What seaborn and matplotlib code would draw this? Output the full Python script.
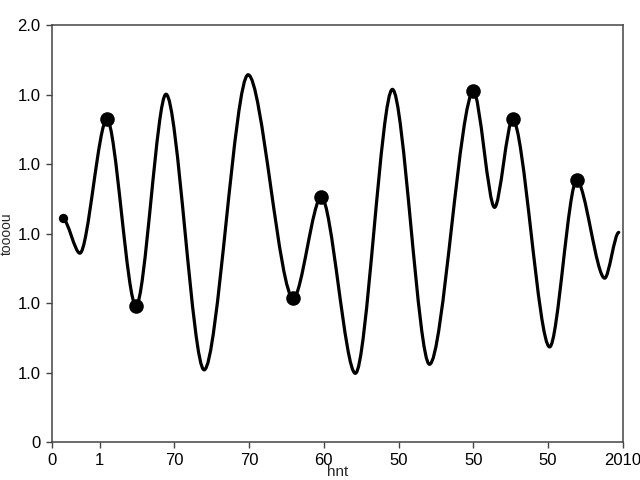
import matplotlib
matplotlib.use("Agg")
import matplotlib.pyplot as plt
from matplotlib.path import Path
from matplotlib.patches import PathPatch
import seaborn as sns
import pandas as pd

# Curve turning points (x in tick units, y in axis units)
curve_x = [0.147, 0.375, 0.737, 1.126, 1.528, 2.038, 2.627, 3.231, 3.606, 4.062,
           4.558, 5.054, 5.643, 5.925, 6.166, 6.662, 7.024, 7.399, 7.587]
curve_y = [3.22, 2.72, 4.65, 1.96, 5.01, 1.04, 5.29, 2.07, 3.53, 0.99,
           5.08, 1.12, 5.05, 3.38, 4.65, 1.37, 3.77, 2.36, 3.02]

# Highlighted points
dot_x = [0.737, 1.126, 3.231, 3.606, 5.643, 6.166, 7.024]
dot_y = [4.65, 1.96, 2.07, 3.53, 5.05, 4.65, 3.77]
start_x = [0.147]
start_y = [3.22]

xtick_pos = [0, 0.64, 1.64, 2.64, 3.64, 4.64, 5.64, 6.64, 7.64]
xtick_labels = ["0", "1", "70", "70", "60", "50", "50", "50", "2010"]
ytick_pos = [0, 1, 2, 3, 4, 5, 6]
ytick_labels = ["0", "1.0", "1.0", "1.0", "1.0", "1.0", "2.0"]
x_label = "hnt"
y_label = "toooou"

sns.set_theme(style="ticks")
plt.rcParams["font.family"] = ["Liberation Sans", "DejaVu Sans"]

fig = plt.figure(figsize=(6.4, 4.8), dpi=100)
ax = fig.add_axes([0.081, 0.079, 0.892, 0.868])

# smooth curve through the turning points (horizontal tangents at each turn)
k = 0.3
verts = [(curve_x[0], curve_y[0])]
codes = [Path.MOVETO]
for i in range(len(curve_x) - 1):
    x0, y0, x1, y1 = curve_x[i], curve_y[i], curve_x[i + 1], curve_y[i + 1]
    dx = x1 - x0
    verts += [(x0 + k * dx, y0), (x1 - k * dx, y1), (x1, y1)]
    codes += [Path.CURVE4] * 3
ax.add_patch(PathPatch(Path(verts, codes), facecolor="none", edgecolor="black",
                       lw=2.3, capstyle="round", joinstyle="round", zorder=2))

df_dots = pd.DataFrame({"x": dot_x, "y": dot_y})
sns.scatterplot(data=df_dots, x="x", y="y", ax=ax, s=110, color="black",
                edgecolor="black", linewidth=0, zorder=3)
df_start = pd.DataFrame({"x": start_x, "y": start_y})
sns.scatterplot(data=df_start, x="x", y="y", ax=ax, s=45, color="black",
                edgecolor="black", linewidth=0, zorder=3)

ax.set_xlim(0, 7.64)
ax.set_ylim(0, 6)
ax.set_xticks(xtick_pos)
ax.set_xticklabels(xtick_labels, fontsize=12)
ax.set_yticks(ytick_pos)
ax.set_yticklabels(ytick_labels, fontsize=12)
ax.set_xlabel(x_label, fontsize=11, labelpad=-2)
ax.set_ylabel(y_label, fontsize=10)
ax.yaxis.set_label_coords(-0.067, 0.5)
for s in ax.spines.values():
    s.set_color("#444444")
    s.set_linewidth(1.1)
ax.tick_params(axis="both", length=4, width=1, color="#444444", colors="black", pad=4)

fig.savefig("out.png", dpi=100)
